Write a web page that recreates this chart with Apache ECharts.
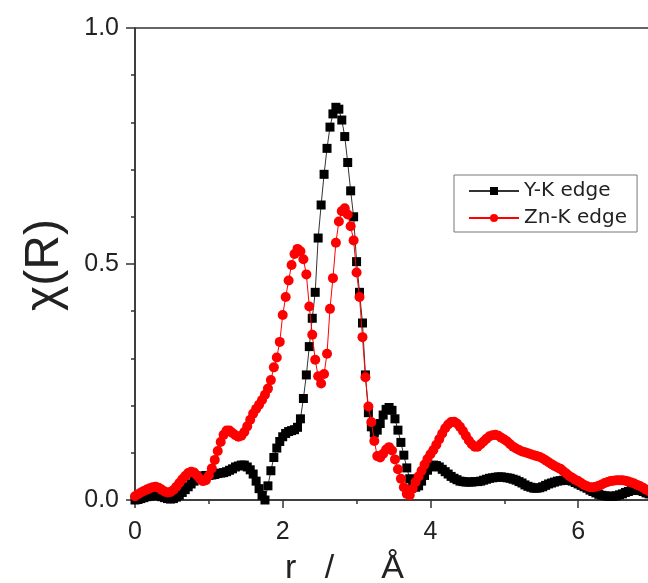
<!DOCTYPE html>
<html>
<head>
<meta charset="utf-8">
<script src="https://cdn.jsdelivr.net/npm/echarts@6/dist/echarts.min.js"></script>
<style>
  html, body { margin: 0; padding: 0; background: #fff; }
  #main { width: 648px; height: 583px; }
</style>
</head>
<body>
<div id="main"></div>
<script>
// r grid (Å)
var rValues = [
  0.00, 0.04, 0.08, 0.12, 0.16, 0.20, 0.24, 0.28, 0.32, 0.36, 0.40, 0.44, 0.48, 0.52, 0.56, 0.60, 0.64, 0.68, 0.72, 0.76, 0.80, 0.84, 0.88, 0.92, 0.96,
  1.00, 1.04, 1.08, 1.12, 1.16, 1.20, 1.24, 1.28, 1.32, 1.36, 1.40, 1.44, 1.48, 1.52, 1.56, 1.60, 1.64, 1.68, 1.72, 1.76, 1.80, 1.84, 1.88, 1.92, 1.96,
  2.00, 2.04, 2.08, 2.12, 2.16, 2.20, 2.24, 2.28, 2.32, 2.36, 2.40, 2.44, 2.48, 2.52, 2.56, 2.60, 2.64, 2.68, 2.72, 2.76, 2.80, 2.84, 2.88, 2.92, 2.96,
  3.00, 3.04, 3.08, 3.12, 3.16, 3.20, 3.24, 3.28, 3.32, 3.36, 3.40, 3.44, 3.48, 3.52, 3.56, 3.60, 3.64, 3.68, 3.72, 3.76, 3.80, 3.84, 3.88, 3.92, 3.96,
  4.00, 4.04, 4.08, 4.12, 4.16, 4.20, 4.24, 4.28, 4.32, 4.36, 4.40, 4.44, 4.48, 4.52, 4.56, 4.60, 4.64, 4.68, 4.72, 4.76, 4.80, 4.84, 4.88, 4.92, 4.96,
  5.00, 5.04, 5.08, 5.12, 5.16, 5.20, 5.24, 5.28, 5.32, 5.36, 5.40, 5.44, 5.48, 5.52, 5.56, 5.60, 5.64, 5.68, 5.72, 5.76, 5.80, 5.84, 5.88, 5.92, 5.96,
  6.00, 6.04, 6.08, 6.12, 6.16, 6.20, 6.24, 6.28, 6.32, 6.36, 6.40, 6.44, 6.48, 6.52, 6.56, 6.60, 6.64, 6.68, 6.72, 6.76, 6.80, 6.84, 6.88, 6.92, 6.96,
  7.00
];

// Y-K edge
var yEdge = [
  0.000, 0.001, 0.003, 0.005, 0.007, 0.008, 0.010, 0.010, 0.009, 0.007, 0.005, 0.003, 0.002, 0.003, 0.006, 0.010, 0.016, 0.022, 0.028, 0.034, 0.040, 0.045, 0.049, 0.051, 0.052,
  0.052, 0.053, 0.054, 0.056, 0.057, 0.058, 0.060, 0.063, 0.066, 0.070, 0.072, 0.074, 0.074, 0.070, 0.064, 0.055, 0.040, 0.024, 0.010, 0.000, 0.030, 0.062, 0.090, 0.110, 0.124,
  0.134, 0.141, 0.145, 0.147, 0.149, 0.154, 0.172, 0.215, 0.265, 0.325, 0.385, 0.440, 0.555, 0.625, 0.690, 0.745, 0.790, 0.818, 0.832, 0.828, 0.805, 0.770, 0.715, 0.655, 0.600,
  0.505, 0.440, 0.375, 0.265, 0.185, 0.155, 0.142, 0.148, 0.162, 0.180, 0.192, 0.196, 0.190, 0.172, 0.148, 0.122, 0.095, 0.068, 0.045, 0.032, 0.027, 0.030, 0.040, 0.052, 0.063,
  0.070, 0.074, 0.073, 0.070, 0.065, 0.060, 0.055, 0.050, 0.046, 0.043, 0.040, 0.039, 0.038, 0.038, 0.038, 0.039, 0.039, 0.040, 0.042, 0.044, 0.046, 0.047, 0.048, 0.049, 0.049,
  0.048, 0.047, 0.046, 0.044, 0.042, 0.039, 0.036, 0.032, 0.029, 0.027, 0.025, 0.025, 0.026, 0.028, 0.031, 0.034, 0.036, 0.038, 0.040, 0.041, 0.042, 0.042, 0.042, 0.040, 0.037,
  0.034, 0.031, 0.028, 0.025, 0.021, 0.018, 0.015, 0.012, 0.010, 0.009, 0.008, 0.008, 0.008, 0.009, 0.011, 0.013, 0.016, 0.018, 0.020, 0.021, 0.021, 0.020, 0.018, 0.015, 0.013,
  0.012
];

// Zn-K edge
var znEdge = [
  0.008, 0.012, 0.016, 0.019, 0.022, 0.025, 0.027, 0.028, 0.026, 0.022, 0.018, 0.016, 0.017, 0.021, 0.028, 0.036, 0.044, 0.051, 0.057, 0.060, 0.058, 0.052, 0.045, 0.040, 0.042,
  0.052, 0.067, 0.085, 0.104, 0.123, 0.138, 0.147, 0.147, 0.142, 0.137, 0.134, 0.136, 0.144, 0.156, 0.170, 0.183, 0.193, 0.202, 0.212, 0.223, 0.236, 0.254, 0.281, 0.302, 0.335,
  0.392, 0.430, 0.465, 0.498, 0.521, 0.532, 0.527, 0.510, 0.478, 0.410, 0.350, 0.297, 0.262, 0.247, 0.267, 0.310, 0.405, 0.470, 0.545, 0.590, 0.612, 0.618, 0.605, 0.580, 0.550,
  0.482, 0.430, 0.345, 0.260, 0.198, 0.165, 0.125, 0.093, 0.090, 0.098, 0.107, 0.112, 0.105, 0.086, 0.065, 0.045, 0.027, 0.013, 0.010, 0.024, 0.038, 0.050, 0.062, 0.075, 0.087,
  0.097, 0.106, 0.117, 0.129, 0.141, 0.152, 0.160, 0.165, 0.166, 0.162, 0.155, 0.146, 0.136, 0.126, 0.118, 0.113, 0.113, 0.118, 0.124, 0.130, 0.135, 0.137, 0.138, 0.136, 0.132,
  0.128, 0.124, 0.118, 0.113, 0.109, 0.106, 0.103, 0.101, 0.099, 0.097, 0.095, 0.093, 0.091, 0.088, 0.084, 0.080, 0.076, 0.072, 0.069, 0.066, 0.061, 0.056, 0.051, 0.047, 0.043,
  0.040, 0.036, 0.032, 0.029, 0.027, 0.027, 0.028, 0.030, 0.033, 0.036, 0.038, 0.040, 0.041, 0.042, 0.042, 0.042, 0.041, 0.039, 0.037, 0.035, 0.032, 0.029, 0.026, 0.022, 0.019,
  0.016
];

var seriesNames = ["Y-K edge", "Zn-K edge"];

function pairs(ys) {
  var out = [];
  for (var i = 0; i < rValues.length; i++) {
    out.push([rValues[i], ys[i]]);
  }
  return out;
}

var mychart = echarts.init(document.getElementById("main"), null, { renderer: "canvas" });

var labelFont = "Liberation Sans, Arial, sans-serif";

var option = {
  backgroundColor: "#fff",
  animation: false,
  grid: {
    left: 135,
    top: 28,
    right: -4,
    bottom: 83,
    outerBoundsMode: "none",
    containLabel: false,
    show: true,
    borderColor: "#333",
    borderWidth: 1.5
  },
  legend: {
    orient: "vertical",
    left: 454,
    top: 175,
    padding: [6, 10, 4, 14],
    itemWidth: 50,
    itemHeight: 10,
    itemGap: 7,
    borderColor: "#777",
    borderWidth: 1,
    backgroundColor: "#fff",
    textStyle: {
      fontFamily: "DejaVu Sans, sans-serif",
      fontSize: 20,
      color: "#222"
    },
    data: seriesNames
  },
  xAxis: {
    type: "value",
    min: 0,
    max: 7,
    interval: 2,
    splitLine: { show: false },
    axisLine: { lineStyle: { color: "#333", width: 1.5 } },
    axisTick: { inside: false, length: 8, lineStyle: { color: "#333", width: 1.5 } },
    minorTick: { show: true, splitNumber: 2, length: 4, lineStyle: { color: "#333", width: 1.5 } },
    axisLabel: {
      margin: 20,
      showMaxLabel: false,
      fontFamily: labelFont,
      fontSize: 25,
      color: "#222"
    }
  },
  yAxis: {
    type: "value",
    min: 0,
    max: 1,
    interval: 0.5,
    splitLine: { show: false },
    axisLine: { show: true, lineStyle: { color: "#333", width: 1.5 } },
    axisTick: { show: true, inside: false, length: 9, lineStyle: { color: "#333", width: 1.5 } },
    minorTick: { show: true, splitNumber: 5, length: 4, lineStyle: { color: "#333", width: 1.5 } },
    axisLabel: {
      margin: 16,
      fontFamily: labelFont,
      fontSize: 25,
      color: "#222",
      formatter: function (v) { return v.toFixed(1); }
    }
  },
  graphic: [
    {
      type: "text",
      x: 45,
      y: 265,
      rotation: Math.PI / 2,
      style: {
        text: "χ(R)",
        font: "48px Liberation Sans, Arial, sans-serif",
        fill: "#222",
        align: "center",
        verticalAlign: "middle"
      }
    },
    {
      type: "text",
      x: 285,
      y: 569,
      style: {
        text: "r   /     Å",
        font: "34px Liberation Sans, Arial, sans-serif",
        fill: "#222",
        align: "left",
        verticalAlign: "middle"
      }
    }
  ],
  series: [
    {
      name: seriesNames[0],
      type: "line",
      data: pairs(yEdge),
      symbol: "rect",
      symbolSize: 9,
      showSymbol: true,
      clip: true,
      lineStyle: { color: "#333", width: 1 },
      itemStyle: { color: "#000", borderWidth: 0 },
      z: 2
    },
    {
      name: seriesNames[1],
      type: "line",
      data: pairs(znEdge),
      symbol: "circle",
      symbolSize: 10,
      showSymbol: true,
      clip: true,
      lineStyle: { color: "#f00", width: 1 },
      itemStyle: { color: "#ff0000", borderWidth: 0 },
      z: 3
    }
  ]
};

mychart.setOption(option);
</script>
</body>
</html>
